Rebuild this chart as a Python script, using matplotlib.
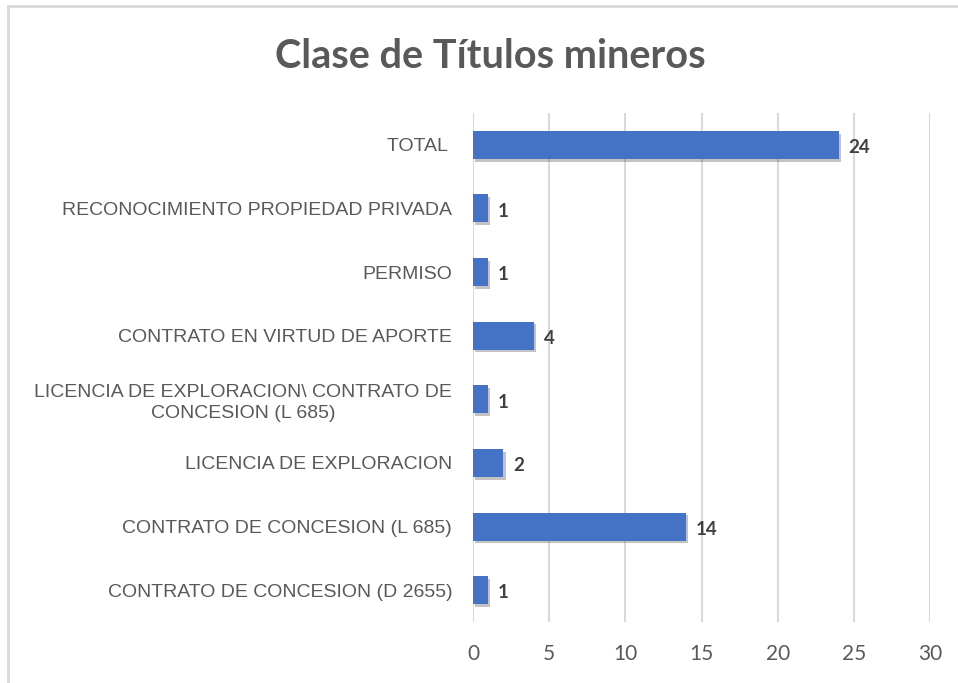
import matplotlib
matplotlib.use("Agg")
import matplotlib.pyplot as plt
import matplotlib.patheffects as pe
from matplotlib.lines import Line2D

# data, bottom to top as drawn
categories = [
    "CONTRATO DE CONCESION (D 2655)",
    "CONTRATO DE CONCESION (L 685)",
    "LICENCIA DE EXPLORACION",
    "LICENCIA DE EXPLORACION\\ CONTRATO DE\nCONCESION (L 685)",
    "CONTRATO EN VIRTUD DE APORTE",
    "PERMISO",
    "RECONOCIMIENTO PROPIEDAD PRIVADA",
    "TOTAL ",
]
values = [1, 14, 2, 1, 4, 1, 1, 24]
xticks = [0, 5, 10, 15, 20, 25, 30]

fig = plt.figure(figsize=(9.58, 6.83), dpi=100)
ax = fig.add_axes([473 / 958, 1 - 622 / 683, (930 - 473) / 958, (622 - 113) / 683])

pos = list(range(len(categories)))
bars = ax.barh(pos, values, height=0.44, color="#4472C4", zorder=3)
for b in bars:
    b.set_path_effects([pe.SimplePatchShadow(offset=(1.5, -2), shadow_rgbFace="#555555", alpha=0.35),
                        pe.Normal()])

for p, v in zip(pos, values):
    ax.annotate(str(v), (v, p), xytext=(7, -2), textcoords="offset points",
                va="center", ha="left", fontsize=13.5, fontweight="bold",
                color="#404040", family=["Lato", "DejaVu Sans"])

ax.set_xlim(0, 30)
ax.set_ylim(-0.5, len(categories) - 0.5)
ax.set_xticks(xticks)
ax.set_yticks(pos)
ax.set_yticklabels(categories, fontsize=14, color="#595959",
                   family=["Liberation Sans Narrow", "Liberation Sans"], linespacing=1.25)
for lab in ax.get_yticklabels():
    lab.set_multialignment("center")
ax.tick_params(axis="y", length=0, pad=15)
ax.tick_params(axis="x", length=0, pad=16, labelsize=15, labelcolor="#595959")
for lab in ax.get_xticklabels():
    lab.set_family(["Lato", "DejaVu Sans"])
ax.grid(axis="x", color="#D9D9D9", linewidth=1.5, zorder=0)
for s in ax.spines.values():
    s.set_visible(False)

fig.text(490 / 958, 1 - 56 / 683, "Clase de Títulos mineros", ha="center", va="center",
         fontsize=28.5, fontweight="bold", color="#595959", family=["Lato", "DejaVu Sans"])

# chart border (left and top)
fig.add_artist(Line2D([8 / 958, 8 / 958], [0, 1 - 6 / 683], transform=fig.transFigure,
                      color="#D9D9D9", linewidth=2))
fig.add_artist(Line2D([8 / 958, 1], [1 - 6 / 683, 1 - 6 / 683], transform=fig.transFigure,
                      color="#D9D9D9", linewidth=2))

fig.savefig("out.png", dpi=100, facecolor="white")
